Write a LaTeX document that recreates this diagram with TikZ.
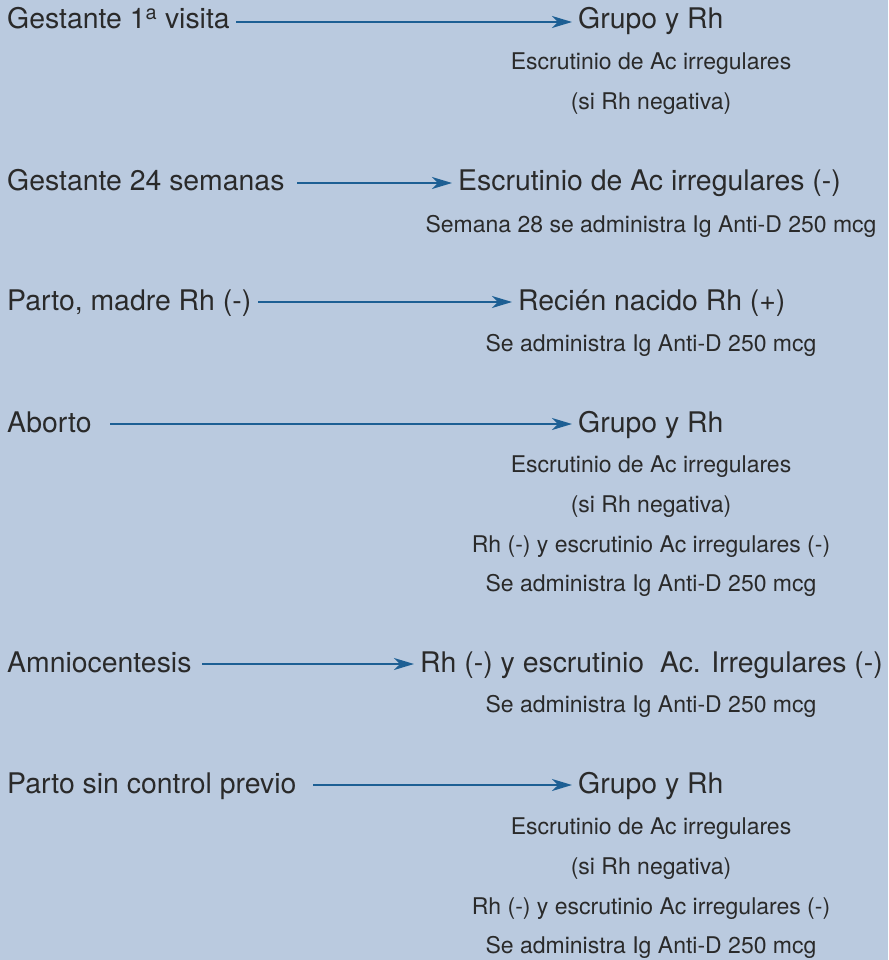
\documentclass[tikz,border=0pt]{standalone}
\usepackage{fontspec}
\setmainfont{TeX Gyre Heros}
\usetikzlibrary{arrows.meta}
\definecolor{bg}{HTML}{BACADF}
\definecolor{txt}{HTML}{2A2A2A}
\definecolor{arr}{HTML}{1D5F94}
\tikzset{
  big/.style={anchor=base west, inner sep=0pt, text=txt, font=\fontsize{28.4}{32}\selectfont},
  small/.style={anchor=base, inner sep=0pt, text=txt, font=\fontsize{23}{26}\selectfont},
  conn/.style={draw=arr, line width=1.5pt, -{Stealth[length=20pt,width=12pt,inset=6pt]}, shorten >=6pt}
}
\begin{document}
\begin{tikzpicture}[x=1pt,y=-1pt]
\fill[bg] (0,0) rectangle (888,960);
\useasboundingbox (0,0) rectangle (888,960);

% Row 1
\node[big] (l1) at (7,29) {Gestante 1\textsuperscript{a} visita};
\node[big] (r1) at (578,29) {Grupo y Rh};
\node[small] (a1) at (651,70) {Escrutinio de Ac irregulares};
\node[small] (b1) at (651,110) {(si Rh negativa)};
\coordinate (s1) at (236,22);
\draw[conn] (s1) -- (s1 -| r1.west);

% Row 2
\node[big] (l2) at (7,190) {Gestante 24 semanas};
\node[big] (r2) at (458,190) {Escrutinio de Ac irregulares (-)};
\node[small] (a2) at (651,232) {Semana 28 se administra Ig Anti-D 250 mcg};
\coordinate (s2) at (297,183);
\draw[conn] (s2) -- (s2 -| r2.west);

% Row 3
\node[big] (l3) at (7,310) {Parto, madre Rh (-)};
\node[big] (r3) at (518,310) {Recién nacido Rh (+)};
\node[small] (a3) at (651,351) {Se administra Ig Anti-D 250 mcg};
\coordinate (s3) at (258,302);
\draw[conn] (s3) -- (s3 -| r3.west);

% Row 4
\node[big] (l4) at (7,432) {Aborto};
\node[big] (r4) at (578,432) {Grupo y Rh};
\node[small] (a4) at (651,472) {Escrutinio de Ac irregulares};
\node[small] (b4) at (651,512) {(si Rh negativa)};
\node[small] (c4) at (651,552) {Rh (-) y escrutinio Ac irregulares (-)};
\node[small] (d4) at (651,591) {Se administra Ig Anti-D 250 mcg};
\coordinate (s4) at (110,424);
\draw[conn] (s4) -- (s4 -| r4.west);

% Row 5
\node[big] (l5) at (7,672) {Amniocentesis};
\node[big] (r5) at (420,672) {Rh (-) y escrutinio\ \ Ac. Irregulares (-)};
\node[small] (a5) at (651,712) {Se administra Ig Anti-D 250 mcg};
\coordinate (s5) at (202,664);
\draw[conn] (s5) -- (s5 -| r5.west);

% Row 6
\node[big] (l6) at (7,793) {Parto sin control previo};
\node[big] (r6) at (578,793) {Grupo y Rh};
\node[small] (a6) at (651,834) {Escrutinio de Ac irregulares};
\node[small] (b6) at (651,874) {(si Rh negativa)};
\node[small] (c6) at (651,914) {Rh (-) y escrutinio Ac irregulares (-)};
\node[small] (d6) at (651,953) {Se administra Ig Anti-D 250 mcg};
\coordinate (s6) at (313,785);
\draw[conn] (s6) -- (s6 -| r6.west);
\end{tikzpicture}
\end{document}
